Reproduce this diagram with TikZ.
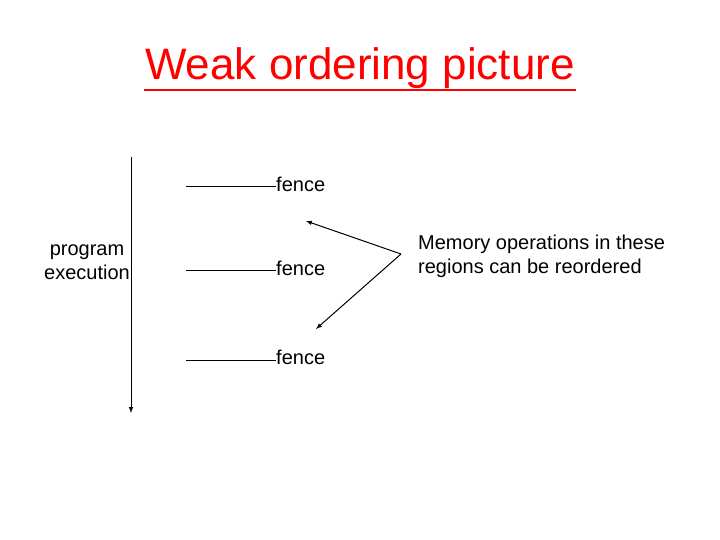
\documentclass[tikz,border=0pt]{standalone}
\usepackage{fontspec}
\setmainfont{Liberation Sans}
\usetikzlibrary{positioning, arrows}
\begin{document}
\begin{tikzpicture}
		[
		x=1pt, y=-1pt,
		font=\fontsize{20}{24}\selectfont,
		fenceline/.style ={draw=black, line width=0.5pt},
		label/.style ={inner sep=0pt, anchor=west}
		]
		\useasboundingbox (0,0) rectangle (720,540);
		\node[text=red, font=\fontsize{44}{50}\selectfont, inner sep=0pt] (t) at (360,68) {Weak ordering picture};
		\draw[red, line width=2.5pt] (144,90) -- (576,90);
		\coordinate (top) at (131,157);
		\coordinate (bot) at (131,413);
		\draw[-latex, line width=1pt] (top) -- (bot);
		\node[align=center, inner sep=0pt] (p) at (87,262) {program\\execution};
		\coordinate (f1) at (186,186);
		\coordinate (f2) at (186,270);
		\coordinate (f3) at (186,360);
		\node[label] (a) at (276,184) {fence};
		\node[label] (b) at (276,268) {fence};
		\node[label] (c) at (276,357) {fence};
		\draw[fenceline] (f1) -- (f1 -| a.west);
		\draw[fenceline] (f2) -- (f2 -| b.west);
		\draw[fenceline] (f3) -- (f3 -| c.west);
		\coordinate (v) at (401,254);
		\coordinate (u) at (306,221);
		\coordinate (w) at (316,329);
		\draw[-latex, line width=1pt] (v) -- (u);
		\draw[-latex, line width=1pt] (v) -- (w);
		\node[label, align=left] (m) at (418,256) {Memory operations in these\\regions can be reordered};
\end{tikzpicture}
\end{document}
